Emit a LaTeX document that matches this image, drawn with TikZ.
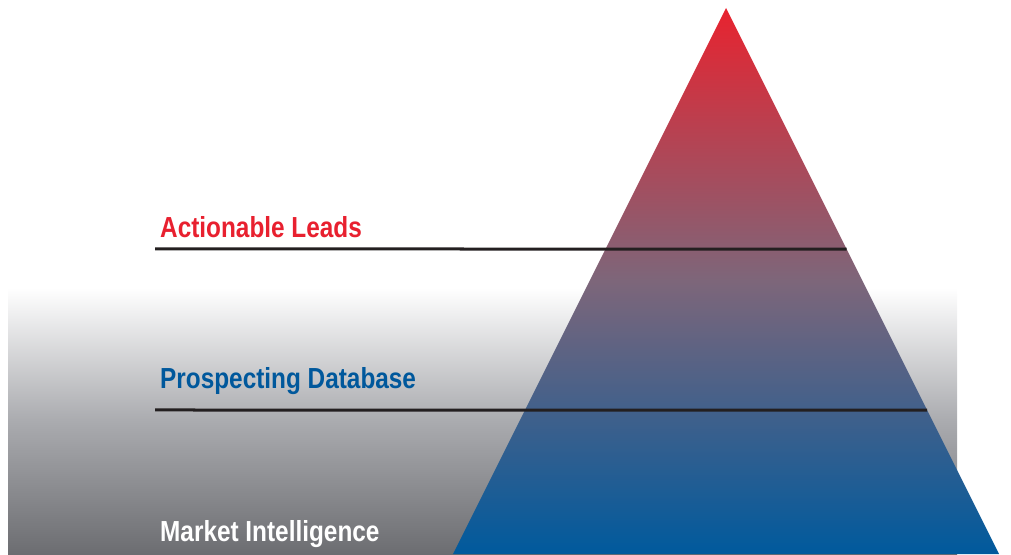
\documentclass[tikz,border=0pt]{standalone}
\usepackage{fontspec}
\usepackage{tikz}
\usetikzlibrary{calc}
\usetikzlibrary{shadings}
\newfontfamily\labelfont[FakeStretch=0.84]{Liberation Sans}
\definecolor{leadred}{RGB}{232,32,47}
\definecolor{prospectblue}{RGB}{0,88,156}
\definecolor{pyrred}{RGB}{232,35,47}
\definecolor{pyrmid}{RGB}{125,102,122}
\definecolor{pyrblue}{RGB}{0,90,157}
\definecolor{backmid}{RGB}{170,171,175}
\definecolor{backdark}{RGB}{108,109,113}
\definecolor{linegray}{RGB}{35,31,32}
\tikzstyle{level label}=[anchor=base west,inner sep=0pt,font=\labelfont\bfseries\fontsize{29}{34}\selectfont]
\tikzstyle{level line}=[draw,line width=3pt,color=linegray]

\begin{document}
\begin{tikzpicture}[x=1pt,y=1pt]
    \useasboundingbox (0,0) rectangle (1011,554);
    % Grey backdrop behind the lower half
    \path[shade,top color=white,bottom color=backdark,middle color=backmid] (8,0) rectangle (957,266);

    % The pyramid, red at the tip and blue at the base
    \coordinate (apex) at (726,546);
    \coordinate (baseL) at (453,0);
    \coordinate (baseR) at (999,0);
    \path[shade,top color=pyrred,bottom color=pyrblue,middle color=pyrmid] (apex) -- (baseR) -- (baseL) -- cycle;

    % Level lines, ending on the right side of the pyramid
    \foreach \name/\y/\t in {leads/305/0.4414, prospects/144/0.7363}
    {
        \coordinate (\name-l) at (155,\y);
        \coordinate (\name-r) at ($(apex)!\t!(baseR)$);
        \path[level line] (\name-l) -- (\name-r);
    }

    % Level labels
    \foreach \pos/\name/\col/\txt in {{(160,316)/leads/leadred/Actionable Leads}, {(160,165)/prospects/prospectblue/Prospecting Database}, {(160,13)/market/white/Market Intelligence}}
        \node[level label,text=\col] (\name) at \pos {\txt};
\end{tikzpicture}
\end{document}
